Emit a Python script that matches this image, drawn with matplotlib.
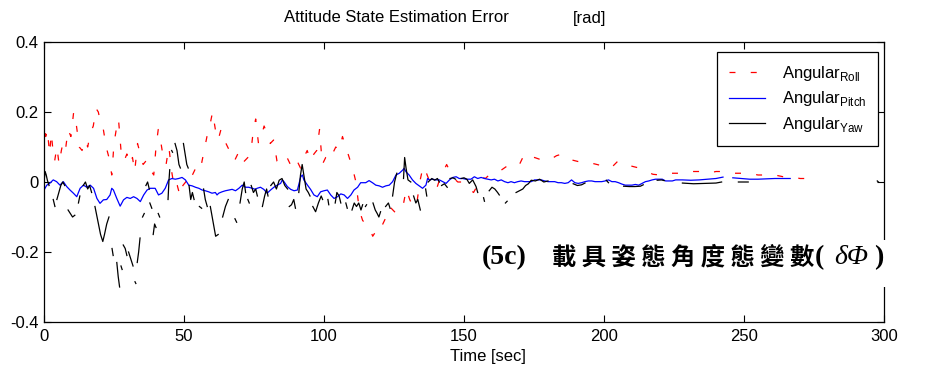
import numpy as np
import matplotlib
matplotlib.use("Agg")
import matplotlib.pyplot as plt
from matplotlib.patches import Rectangle

nan = np.nan

# 時間軸刻度
x_ticks = [0, 50, 100, 150, 200, 250, 300]
y_ticks = [-0.4, -0.2, 0, 0.2, 0.4]
y_tick_labels = ["-0.4", "-0.2", "0", "0.2", "0.4"]

# Roll 誤差 (紅色虛線)
roll_t = [0, 0.6, 1.2, 2.0, 2.6, 3.2, 3.8, 4.6, 5.4, 6.2,
          7.0, 7.8, 8.6, 9.6, 10.6, 11.6, 12.6, 13.6, 14.6, 15.6,
          16.6, 17.6, 18.6, 19.4, 20.2, 21.2, 22.2, 23.2, 24.2, 25.0,
          25.8, 26.6, 27.6, 28.6, 29.6, 30.6, 31.6, 32.4, 33.4, 34.4,
          35.4, 36.4, 37.4, 38.4, 39.2, 40.0, 40.8, 41.6, 42.6, 43.6,
          44.6, 45.6, 46.6, 47.6, 48.6, 49.6, 50.6, 51.8, 53.0, 54.2,
          55.2, 56.2, 57.2, 58.2, 59.2, 60.2, 61.2, 62.2, 63.2, 64.4,
          65.6, 66.8, 68.0, 69.2, 70.4, 71.6, 72.8, 73.8, 74.8, 75.6,
          76.6, 77.6, 78.6, 79.6, 80.8, 82.0, 83.2, 84.4, 85.6, 86.8,
          88.0, 89.2, 90.4, 91.6, 92.8, 94.0, 95.2, 96.4, 97.4, 98.4,
          99.4, 100.6, 101.8, 103.0, 104.2, 105.4, 106.6, 107.8, 109.0, 110.2,
          111.4, 112.6, 113.8, 115.0, 116.2, 117.4, 118.6, 119.8, 121.0, 122.2,
          123.4, 124.6, 125.8, 127.0, 128.2, 129.4, 130.6, 131.8, 133.0, 134.2,
          135.4, 136.6, 137.8, 139.0, 140.2, 141.4, 142.6, 143.8, 145.0, 146.4,
          147.8, 149.2, 150.6, 152.0, 153.4, 154.8, 156.2, 157.6, 159.0, 160.8,
          162.6, 164.4, 166.2, 168.0, 169.8, 171.6, 173.4, 175.2, 177.0, 179.0,
          181.0, 183.0, 185.0, 187.5, 190.0, 192.5, 195.0, 197.5, 200.0, 202.5,
          205.0, 207.5, 210.0, 212.5, 215.0, 217.5, 220.0, 222.5, 225.0, 228.0,
          231.0, 234.0, 237.0, 240.0, 243.0, 246.0, 249.0, 252.0, 255.0, 258.0,
          261.0, 264.0, 267.0, 270.0, 273.0]
roll_v = [0.20, 0.13, 0.15, 0.08, 0.14, 0.09, 0.06, 0.10, 0.05, 0.09,
          0.12, 0.10, 0.15, 0.13, 0.20, 0.16, 0.10, 0.09, 0.12, 0.10,
          0.14, 0.16, 0.21, 0.20, 0.17, 0.15, 0.10, 0.07, 0.02, 0.11,
          0.15, 0.18, 0.08, 0.06, 0.08, 0.05, 0.07, 0.03, 0.11, 0.08,
          0.05, 0.06, 0.06, 0.03, 0.02, 0.10, 0.15, 0.12, 0.07, 0.05,
          0.10, 0.03, -0.02, -0.01, -0.04, -0.01, 0.00, 0.03, 0.02, 0.04,
          0.06, 0.05, 0.09, 0.13, 0.16, 0.20, 0.15, 0.12, 0.15, 0.12,
          0.10, 0.08, 0.06, 0.08, 0.05, 0.06, 0.07, 0.08, 0.15, 0.18,
          0.11, 0.13, 0.16, 0.14, 0.11, 0.12, 0.06, 0.05, 0.06, 0.07,
          0.05, 0.07, 0.06, 0.04, 0.07, 0.09, 0.06, 0.08, 0.09, 0.15,
          0.05, 0.07, 0.06, 0.08, 0.10, 0.09, 0.13, 0.10, 0.07, 0.04,
          0.00, -0.08, -0.11, -0.12, -0.13, -0.155, -0.14, -0.145, -0.12, -0.10,
          -0.07, -0.08, -0.09, -0.08, -0.07, -0.02, -0.05, -0.07, -0.07, 0.00,
          0.045, 0.025, 0.00, -0.01, -0.02, 0.01, 0.03, 0.05, 0.03, 0.01,
          0.00, 0.00, -0.005, -0.02, -0.03, -0.01, 0.015, 0.01, 0.02, 0.02,
          0.03, 0.04, 0.05, 0.045, 0.05, 0.08, 0.07, 0.07, 0.065, 0.06,
          0.065, 0.075, 0.08, 0.065, 0.06, 0.055, 0.055, 0.05, 0.045, 0.04,
          0.06, 0.055, 0.045, 0.04, 0.03, 0.022, 0.02, 0.025, 0.025, 0.025,
          0.03, 0.03, 0.025, 0.03, 0.03, 0.025, 0.025, 0.025, 0.02, 0.02,
          0.02, 0.015, 0.015, 0.01, 0.01]

# Pitch 誤差 (藍色實線)
pitch_t = [0, 1, 2, 3.3, 4.5, 5.7, 6.9, 8.1, 9.3, 10.5,
           11.7, 12.9, 14.1, 15.3, 16.5, 17.7, 18.9, 20, 21.2, 22.4,
           23.6, 24.2, 24.8, 26, 27.2, 28.4, 29.6, 30.8, 32, 33.2,
           34.4, 35.6, 36.8, 38, 39.7, 40.9, 42.1, 43.3, 44.5, 45.7,
           46.9, 48.1, 49.3, 50.5, 51.7, 52.9, 54.1, 55.3, 56.5, 57.6,
           58.8, 60, 61.2, 61.8, 62.4, 63.6, 64.8, 66, 67.2, 68.4,
           69.6, 70.8, 72, 73.1, 74.4, 75.5, 76.1, 77.3, 78.5, 79.7,
           80.9, 82.1, 83.3, 84.5, 85.1, 85.7, 86.9, 88.1, 89.3, 90.5,
           91.1, 91.7, 92.3, 92.8, 94.1, 95.2, 96.4, 97.6, 98.8, 100,
           101.2, 102.4, 103.6, 104.8, 106, 107.2, 108.4, 109.6, 110.7, 112,
           113.1, 114.9, 116.1, 117.3, 118.5, 119.7, 120.9, 122.1, 123.3, 124.5,
           125.7, 126.9, 128.1, 128.6, 129.3, 130.4, 131.6, 132.8, 134, 135.2,
           136.4, 137, 137.6, 138.8, 140, 141.2, 142.4, 143.6, 144.8, 146,
           147.2, 148.3, 149.5, 150.7, 152.5, 153.7, 154.9, 156.1, 157.3, 158.5,
           159.7, 160.9, 162.1, 163.3, 164.5, 165.7, 166.8, 168, 169.2, 170.4,
           171.6, 172.8, 174, 175.2, 176.4, 177.6, 178.8, 180, 181.2, 182.4,
           183.6, 184.8, 186, 187.2, 188.4, 189.6, 190.8, 192, 193.2, 194.4,
           195.6, 196.8, 198, 199.2, 200.4, 201.6, 202.8, 204, 205.2, 206.4,
           207.6, 208.8, 210, 211.2, 212.4, 213.6, 214.8, 216, 217.2, 218.4,
           219.6, 220.8, 222, 223.2, 224.4, 225.6, 228, 231, 234, 237,
           240, 242.5, 243.5, 246, 249, 252, 255, 258, 261, 264,
           266.5]
pitch_v = [-0.023, -0.009, -0.004, 0.006, 0.001, -0.009, 0.001, -0.013, -0.023, -0.032,
           -0.042, -0.018, -0.009, -0.015, -0.009, -0.018, -0.047, -0.061, -0.051, -0.050,
           -0.037, -0.018, -0.023, -0.047, -0.069, -0.051, -0.044, -0.047, -0.042, -0.047,
           -0.056, -0.037, -0.023, -0.018, -0.018, -0.037, -0.032, -0.018, 0.006, 0.010,
           0.008, 0.010, 0.013, 0.006, -0.009, -0.011, -0.015, -0.018, -0.023, -0.025,
           -0.028, -0.032, -0.030, -0.037, -0.032, -0.028, -0.025, -0.023, -0.021, -0.025,
           -0.018, -0.009, -0.015, -0.015, -0.018, -0.021, -0.018, -0.015, -0.021, -0.032,
           -0.023, -0.015, -0.009, -0.004, 0.006, 0.001, -0.013, -0.021, -0.025, -0.023,
           -0.004, 0.015, 0.020, 0.006, -0.009, -0.021, -0.037, -0.042, -0.028, -0.025,
           -0.023, -0.037, -0.047, -0.042, -0.034, -0.037, -0.047, -0.037, -0.023, -0.015,
           -0.002, -0.002, 0.004, -0.002, -0.009, -0.011, -0.015, -0.011, -0.009, 0.001,
           0.020, 0.025, 0.034, 0.039, 0.029, 0.020, 0.006, -0.004, -0.011, -0.018,
           -0.009, 0.010, 0.006, 0.008, 0.006, 0.006, 0.001, -0.004, 0.006, 0.013,
           0.015, 0.010, 0.010, 0.008, 0.008, 0.015, 0.010, 0.013, 0.010, 0.008,
           0.006, 0.008, 0.003, 0.006, 0.001, -0.002, 0.001, -0.002, 0.001, 0.003,
           0.001, 0.001, 0.001, 0.006, 0.006, 0.006, 0.003, 0.001, 0.001, 0.001,
           -0.002, -0.002, -0.004, -0.002, 0.006, -0.002, -0.004, -0.002, 0.001, 0.003,
           0.003, 0.001, 0.001, 0.001, 0.003, 0.006, 0.001, 0.001, -0.002, -0.006,
           -0.009, -0.009, -0.009, -0.007, -0.009, -0.004, 0.001, 0.003, 0.006, 0.008,
           0.008, 0.008, 0.003, 0.003, 0.003, 0.006, 0.006, 0.005, 0.006, 0.008,
           0.010, 0.014, nan, 0.012, 0.010, 0.008, 0.008, 0.009, 0.010, 0.010,
           0.010]

# Yaw 誤差 (黑色實線, 斷續), nan 為斷點
yaw_t = [0, 0.4, 0.8, 1.2, 1.8, nan,
         3.3, 3.9, nan,
         4.6, 5.3, 6.0, 6.7, 7.4, nan,
         8.6, 9.4, 10.2, 11.0, nan,
         12.3, 12.8, nan,
         14.0, 14.8, 15.6, 16.3, 17.0, nan,
         18.2, 19.2, 20.2, 21.0, 21.6, 22.4, 23.2, nan,
         24.3, 24.7, nan,
         26.0, 26.5, 27.0, nan,
         27.5, 27.9, nan,
         28.3, 29.0, 29.6, nan,
         30.2, 31.0, 31.8, nan,
         32.5, 32.8, nan,
         33.3, 33.8, 34.3, nan,
         35.2, 35.8, nan,
         36.4, 37.0, 37.6, nan,
         37.8, 38.5, nan,
         39.0, 39.5, 40.0, nan,
         40.8, 41.3, nan,
         44.3, 44.6, 44.9, nan,
         45.6, 45.9, nan,
         46.8, 47.5, 48.2, 48.7, nan,
         49.8, 50.4, 51.0, 51.5, nan,
         51.8, 52.4, 53.0, 53.6, nan,
         55.5, 56.3, nan,
         57.0, 57.6, 58.3, nan,
         59.4, 60.3, 61.3, 62.2, nan,
         63.8, 64.8, 65.8, nan,
         68.2, 68.8, nan,
         70.0, 70.8, 71.5, 72.0, nan,
         72.8, 73.3, nan,
         74.0, 74.8, 75.6, 76.2, nan,
         78.0, 78.8, 79.5, 80.0, nan,
         81.0, 82.0, 83.0, 84.0, 85.0, 86.0, 87.0, nan,
         87.6, 88.4, 89.2, 89.8, nan,
         91.0, 91.6, 92.2, 92.8, 93.6, 94.4, 95.0, nan,
         96.0, 97.0, 98.0, 99.0, 99.5, nan,
         101.4, 101.7, nan,
         104.0, 104.6, 105.4, 106.0, nan,
         107.8, 108.3, nan,
         110.0, 110.8, 111.6, 112.4, 113.2, 113.8, nan,
         114.8, 115.2, nan,
         117.5, 118.3, 119.0, 119.6, 120.2, nan,
         122.0, 123.0, 123.6, nan,
         124.5, 125.2, 126.0, nan,
         128.4, 128.8, 129.3, 130.0, 131.0, nan,
         132.0, 132.8, 133.5, 134.4, nan,
         136.3, 136.7, nan,
         137.2, 138.5, 139.5, 140.5, 141.2, nan,
         142.0, 143.0, 144.0, nan,
         145.0, 146.0, 147.0, nan,
         149.0, 150.0, 151.0, 151.9, 153.1, 154.3, 154.9, nan,
         157.0, 157.3, nan,
         159.0, 160.0, 161.0, 162.0, 162.6, nan,
         164.8, 165.4, nan,
         168.6, 169.8, 171.0, 172.0, 173.0, 174.0, 175.5, 177.0, 178.5, 180.0, nan,
         189.0, 190.5, 192.0, 193.2, nan,
         200.8, 201.6, nan,
         207.0, 209.0, 211.0, 213.0, 214.0, nan,
         219.0, 220.5, 221.5, nan,
         228.0, 232.0, 236.0, 240.0, 242.0, nan,
         248.0, 251.5, nan,
         297.6, 298.0]
yaw_v = [0.0, 0.03, 0.02, 0.005, -0.01, nan,
         -0.05, -0.07, nan,
         -0.05, -0.03, -0.01, 0.0, -0.01, nan,
         -0.08, -0.09, -0.10, -0.095, nan,
         -0.06, -0.04, nan,
         -0.01, 0.0, -0.02, -0.01, -0.03, nan,
         -0.07, -0.11, -0.15, -0.17, -0.15, -0.12, -0.10, nan,
         -0.19, -0.21, nan,
         -0.23, -0.27, -0.30, nan,
         -0.24, -0.25, nan,
         -0.18, -0.19, -0.21, nan,
         -0.20, -0.22, -0.24, nan,
         -0.285, -0.29, nan,
         -0.23, -0.20, -0.16, nan,
         -0.10, -0.09, nan,
         -0.01, 0.0, -0.02, nan,
         -0.06, -0.075, nan,
         -0.15, -0.12, -0.13, nan,
         -0.09, -0.10, nan,
         -0.05, 0.0, 0.035, nan,
         0.09, 0.085, nan,
         0.11, 0.09, 0.05, 0.04, nan,
         0.11, 0.08, 0.05, 0.04, nan,
         -0.01, -0.05, -0.03, -0.05, nan,
         -0.07, -0.075, nan,
         -0.02, -0.05, -0.07, nan,
         -0.07, -0.11, -0.155, -0.15, nan,
         -0.10, -0.07, -0.05, nan,
         -0.105, -0.115, nan,
         -0.06, -0.02, 0.0, -0.03, nan,
         -0.05, -0.06, nan,
         -0.01, -0.03, -0.02, -0.04, nan,
         -0.07, -0.04, -0.02, -0.04, nan,
         -0.01, 0.0, -0.02, 0.005, 0.01, -0.01, -0.02, nan,
         -0.07, -0.065, -0.05, -0.075, nan,
         -0.03, 0.02, 0.05, 0.02, -0.02, -0.03, -0.04, nan,
         -0.07, -0.085, -0.06, -0.04, -0.05, nan,
         -0.05, -0.065, nan,
         -0.06, -0.03, -0.04, -0.06, nan,
         -0.06, -0.075, nan,
         -0.08, -0.06, -0.07, -0.06, -0.08, -0.065, nan,
         -0.07, -0.065, nan,
         -0.06, -0.08, -0.09, -0.10, -0.085, nan,
         -0.07, -0.06, -0.075, nan,
         -0.04, 0.0, 0.025, nan,
         0.01, 0.07, 0.04, 0.006, 0.0, nan,
         -0.04, -0.06, -0.05, -0.08, nan,
         -0.02, -0.04, nan,
         0.0, 0.01, 0.005, 0.01, 0.0, nan,
         -0.01, -0.005, -0.015, nan,
         0.01, 0.012, 0.008, nan,
         0.01, 0.012, 0.008, -0.004, 0.006, -0.013, -0.03, nan,
         -0.045, -0.055, nan,
         -0.025, -0.015, -0.02, -0.03, -0.037, nan,
         -0.06, -0.055, nan,
         -0.03, -0.025, -0.02, -0.01, -0.005, 0.005, 0.003, 0.008, 0.0, 0.003, nan,
         -0.005, -0.01, -0.008, -0.003, nan,
         0.005, -0.002, nan,
         -0.012, -0.013, -0.013, -0.012, -0.008, nan,
         0.005, 0.006, 0.004, nan,
         -0.003, -0.005, -0.004, -0.003, 0.0, nan,
         0.0, 0.0, nan,
         0.003, 0.0]

plt.rcParams['font.family'] = ['Liberation Sans', 'DejaVu Sans']
plt.rcParams['mathtext.fontset'] = 'custom'
plt.rcParams['mathtext.rm'] = 'Liberation Sans'
plt.rcParams['axes.unicode_minus'] = False
plt.rcParams['lines.scale_dashes'] = False

W, H = 926, 374
fig = plt.figure(figsize=(W / 100, H / 100), dpi=100)
ax = fig.add_axes([44 / W, 52 / H, 840 / W, 280 / H])

ax.plot(roll_t, roll_v, color='#ff0000', lw=0.9, dashes=(4.3, 11),
        label=r'Angular$_{\rm Roll}$')
ax.plot(pitch_t, pitch_v, color='#0000ff', lw=0.9, label=r'Angular$_{\rm Pitch}$')
ax.plot(yaw_t, yaw_v, color='black', lw=0.9, label=r'Angular$_{\rm Yaw}$')

ax.set_xlim(0, 300)
ax.set_ylim(-0.4, 0.4)
ax.set_xticks(x_ticks)
ax.set_yticks(y_ticks)
ax.set_yticklabels(y_tick_labels)
ax.tick_params(direction='in', top=True, right=True, length=5, width=0.8, labelsize=12)
ax.tick_params(axis='x', pad=5)
ax.tick_params(axis='y', pad=4)
for sp in ax.spines.values():
    sp.set_linewidth(0.9)

leg = ax.legend(loc='upper right', bbox_to_anchor=(0.993, 0.964), borderaxespad=0,
                fancybox=False, edgecolor='black', framealpha=1, fontsize=12,
                handlelength=2.2, handletextpad=1.0, labelspacing=0.4, borderpad=0.7)
leg.get_frame().set_linewidth(0.9)

# 標題與座標軸名稱
fig.text(396 / W, 1 - 18 / H, 'Attitude State Estimation Error', ha='center', va='center', fontsize=12)
fig.text(590 / W, 1 - 18 / H, '[rad]', ha='center', va='center', fontsize=12)
fig.text(488 / W, 1 - 357 / H, 'Time [sec]', ha='center', va='center', fontsize=12)

# 圖說 (白底蓋住右邊框)
fig.patches.append(Rectangle((468 / W, 1 - 287 / H), (W - 468) / W, 47 / H,
                             transform=fig.transFigure, facecolor='white',
                             edgecolor='none', zorder=2))
yc = 1 - 258 / H
fig.text(482 / W, yc, '(5c)', ha='left', va='center', fontsize=20,
         family='Liberation Serif', weight='bold', zorder=3)
fig.text(552 / W, yc, '載 具 姿 態 角 度 態 變 數', ha='left', va='center', fontsize=17.5,
         family=['Noto Sans CJK TC', 'DejaVu Sans'], weight='bold', zorder=3)
fig.text(815 / W, yc, '(', ha='left', va='center', fontsize=20,
         family='Liberation Serif', weight='bold', zorder=3)
fig.text(834 / W, yc, 'δΦ', ha='left', va='center', fontsize=20,
         family='Liberation Serif', style='italic', zorder=3)
fig.text(874 / W, yc, ')', ha='left', va='center', fontsize=20,
         family='Liberation Serif', weight='bold', zorder=3)

fig.savefig('out.png', dpi=100)
